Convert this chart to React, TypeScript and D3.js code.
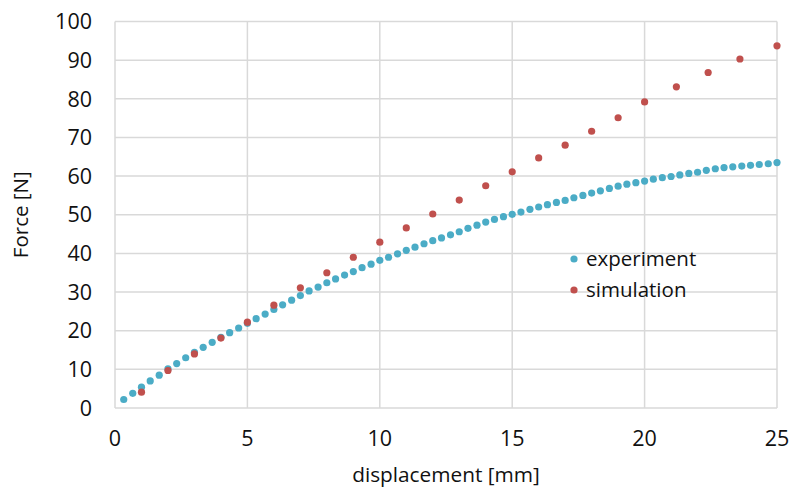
import React, { useEffect, useRef } from "react";
import * as d3 from "d3";

// experiment: measured force vs displacement
const expDisplacement = [
  0.33, 0.67, 1.0, 1.33, 1.67, 2.0, 2.33, 2.67, 3.0, 3.33, 3.67, 4.0, 4.33, 4.67, 5.0,
  5.33, 5.67, 6.0, 6.33, 6.67, 7.0, 7.33, 7.67, 8.0, 8.33, 8.67, 9.0, 9.33, 9.67, 10.0,
  10.33, 10.67, 11.0, 11.33, 11.67, 12.0, 12.33, 12.67, 13.0, 13.33, 13.67, 14.0, 14.33, 14.67, 15.0,
  15.33, 15.67, 16.0, 16.33, 16.67, 17.0, 17.33, 17.67, 18.0, 18.33, 18.67, 19.0, 19.33, 19.67, 20.0,
  20.33, 20.67, 21.0, 21.33, 21.67, 22.0, 22.33, 22.67, 23.0, 23.33, 23.67, 24.0, 24.33, 24.67, 25.0,
];
const expForce = [
  2.2, 3.8, 5.4, 7.0, 8.5, 10.1, 11.5, 13.0, 14.4, 15.7, 17.0, 18.3, 19.5, 20.7, 21.9,
  23.1, 24.3, 25.5, 26.7, 27.9, 29.1, 30.3, 31.3, 32.4, 33.4, 34.4, 35.3, 36.3, 37.2, 38.2,
  39.0, 39.9, 40.8, 41.6, 42.5, 43.3, 44.0, 44.8, 45.6, 46.5, 47.3, 48.1, 48.8, 49.5, 50.1,
  50.7, 51.4, 52.0, 52.6, 53.2, 53.7, 54.4, 55.0, 55.6, 56.2, 56.8, 57.4, 57.9, 58.3, 58.7,
  59.2, 59.6, 59.9, 60.3, 60.7, 61.0, 61.5, 61.9, 62.2, 62.4, 62.6, 62.8, 63.0, 63.2, 63.5,
];

// simulation
const simDisplacement = [
  1, 2, 3, 4, 5, 6, 7, 8, 9, 10, 11, 12, 13, 14, 15, 16, 17, 18, 19, 20, 21.2, 22.4, 23.6, 25,
];
const simForce = [
  4.1, 9.7, 14.0, 18.1, 22.2, 26.6, 31.1, 35.0, 39.0, 42.9, 46.6, 50.2, 53.8, 57.5, 61.1,
  64.7, 68.0, 71.6, 75.1, 79.2, 83.1, 86.8, 90.3, 93.7,
];

const xTicks = [0, 5, 10, 15, 20, 25];
const yTicks = [0, 10, 20, 30, 40, 50, 60, 70, 80, 90, 100];
const seriesNames = ["experiment", "simulation"];
const seriesColors = ["#4bacc6", "#c0504d"];

const W = 791;
const H = 488;
const FONT = "'Open Sans', sans-serif";

const ForceChart = () => {
  const ref = useRef<SVGSVGElement>(null);

  useEffect(() => {
    const svg = d3.select(ref.current);
    svg.selectAll("*").remove();

    const margin = { top: 21.5, right: 14, bottom: 80, left: 115 };
    const x = d3.scaleLinear().domain([0, 25]).range([margin.left, W - margin.right]);
    const y = d3.scaleLinear().domain([0, 100]).range([H - margin.bottom, margin.top]);

    // grid
    const grid = svg.append("g").attr("stroke", "#d9d9d9").attr("stroke-width", 1.5);
    grid
      .selectAll("line.h")
      .data(yTicks)
      .enter()
      .append("line")
      .attr("x1", x(0))
      .attr("x2", x(25))
      .attr("y1", (d) => y(d))
      .attr("y2", (d) => y(d));
    grid
      .selectAll("line.v")
      .data(xTicks)
      .enter()
      .append("line")
      .attr("x1", (d) => x(d))
      .attr("x2", (d) => x(d))
      .attr("y1", y(0))
      .attr("y2", y(100));

    // tick labels
    svg
      .append("g")
      .selectAll("text")
      .data(yTicks)
      .enter()
      .append("text")
      .attr("x", 92)
      .attr("y", (d) => y(d))
      .attr("dy", "0.36em")
      .attr("text-anchor", "end")
      .attr("font-family", FONT)
      .attr("font-size", 21.5)
      .attr("fill", "#111")
      .text((d) => d);

    svg
      .append("g")
      .selectAll("text")
      .data(xTicks)
      .enter()
      .append("text")
      .attr("x", (d) => x(d))
      .attr("y", 446)
      .attr("text-anchor", "middle")
      .attr("font-family", FONT)
      .attr("font-size", 21.5)
      .attr("fill", "#111")
      .text((d) => d);

    // axis titles
    svg
      .append("text")
      .attr("x", (x(0) + x(25)) / 2)
      .attr("y", 482)
      .attr("text-anchor", "middle")
      .attr("font-family", FONT)
      .attr("font-size", 20.8)
      .attr("fill", "#111")
      .text("displacement [mm]");

    svg
      .append("text")
      .attr("transform", `translate(28, ${y(50)}) rotate(-90)`)
      .attr("text-anchor", "middle")
      .attr("font-family", FONT)
      .attr("font-size", 20.5)
      .attr("fill", "#111")
      .text("Force [N]");

    // points
    const expData = expDisplacement.map((d, i) => ({ x: d, y: expForce[i] }));
    const simData = simDisplacement.map((d, i) => ({ x: d, y: simForce[i] }));

    svg
      .append("g")
      .selectAll("circle")
      .data(expData)
      .enter()
      .append("circle")
      .attr("cx", (d) => x(d.x))
      .attr("cy", (d) => y(d.y))
      .attr("r", 3.6)
      .attr("fill", seriesColors[0]);

    svg
      .append("g")
      .selectAll("circle")
      .data(simData)
      .enter()
      .append("circle")
      .attr("cx", (d) => x(d.x))
      .attr("cy", (d) => y(d.y))
      .attr("r", 3.6)
      .attr("fill", seriesColors[1]);

    // legend
    const legend = svg
      .append("g")
      .selectAll("g")
      .data(seriesNames)
      .enter()
      .append("g")
      .attr("transform", (d, i) => `translate(574, ${259 + i * 31})`);
    legend.append("circle").attr("r", 3.6).attr("fill", (d, i) => seriesColors[i]);
    legend
      .append("text")
      .attr("x", 12)
      .attr("dy", "0.36em")
      .attr("font-family", FONT)
      .attr("font-size", 20.5)
      .attr("fill", "#111")
      .text((d) => d);
  }, []);

  return (
    <svg
      ref={ref}
      width={W}
      height={H}
      style={{ position: "absolute", left: 0, top: 0, background: "#fff" }}
    ></svg>
  );
};

export default function App() {
  return <ForceChart />;
}
